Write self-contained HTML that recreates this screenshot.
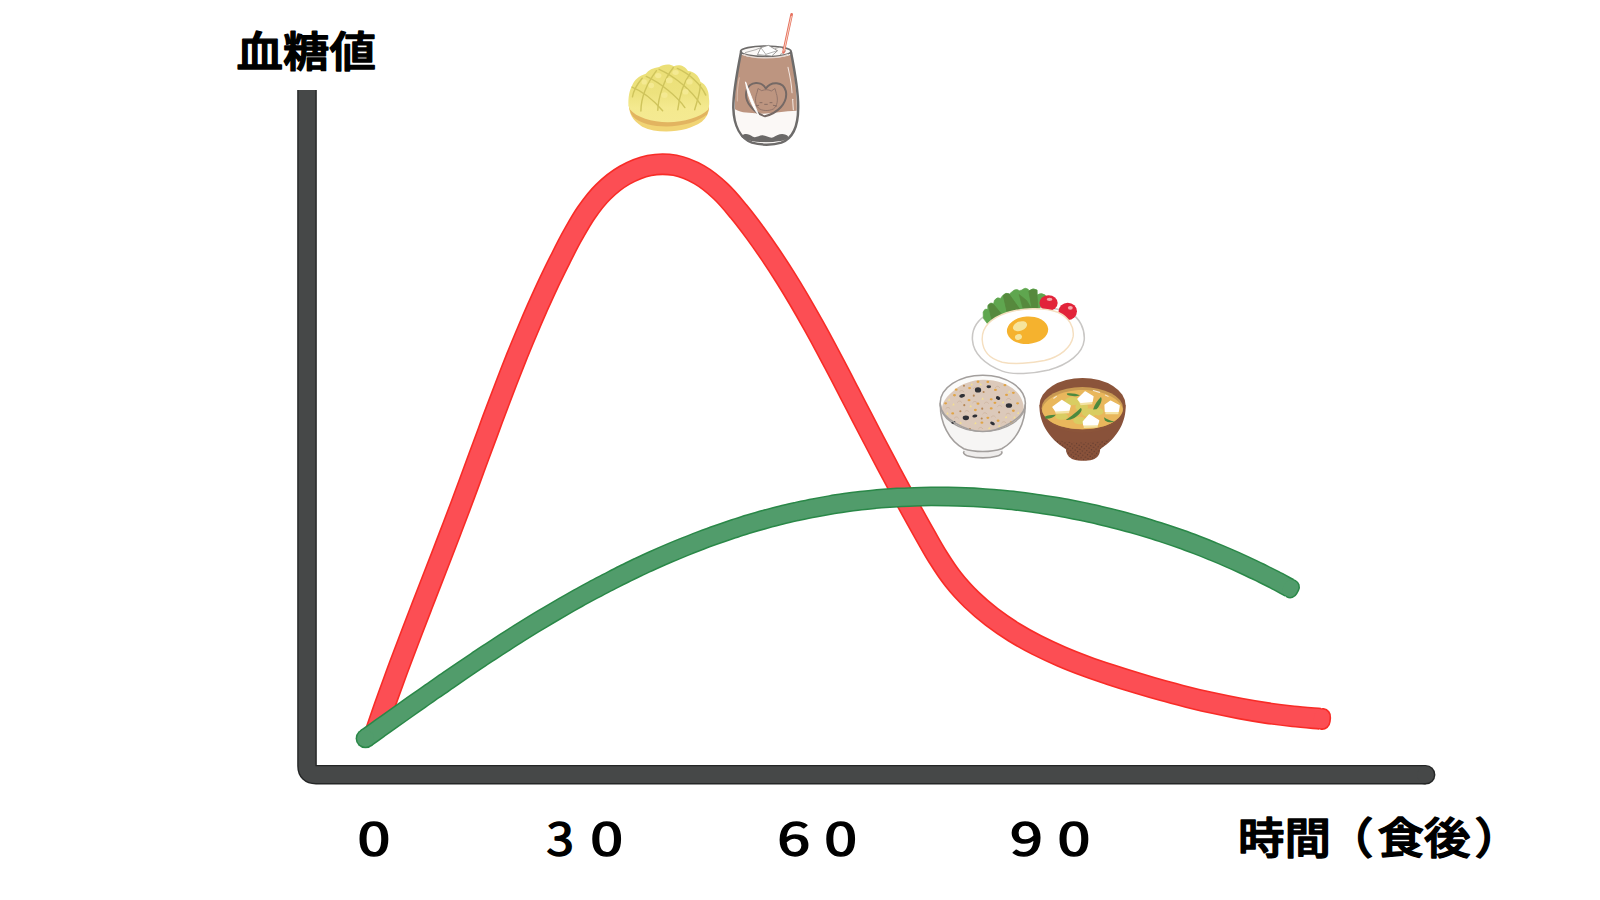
<!DOCTYPE html>
<html lang="ja">
<head>
<meta charset="utf-8">
<title>血糖値</title>
<style>
html,body{margin:0;padding:0;background:#fff;}
body{width:1600px;height:900px;overflow:hidden;font-family:"Liberation Sans","Noto Sans CJK JP",sans-serif;}
svg{display:block;position:absolute;left:0;top:0;}
.lbl{font-family:"Liberation Sans","Noto Sans CJK JP",sans-serif;font-weight:500;fill:#000;stroke:#000;stroke-linejoin:round;stroke-linecap:round;}
.num{font-family:"Noto Sans CJK JP","Liberation Sans",sans-serif;font-weight:400;fill:#000;stroke:#000;stroke-width:1.5;stroke-linejoin:round;}
</style>
</head>
<body>
<svg width="1600" height="900" viewBox="0 0 1600 900">
<rect width="1600" height="900" fill="#ffffff"/>
<!-- axes -->
<path d="M307,90 L307,766 Q307,774.7 316,774.7 L1425.6,774.7" fill="none" stroke="#242626" stroke-width="19.6" stroke-linecap="butt"/>
<circle cx="1425.6" cy="774.7" r="9.8" fill="#242626"/>
<path d="M307,90 L307,766 Q307,774.7 316,774.7 L1425.6,774.7" fill="none" stroke="#464848" stroke-width="16.8" stroke-linecap="butt"/>
<circle cx="1425.6" cy="774.7" r="8.4" fill="#464848"/>
<!-- red curve -->
<path d="M375.5,732.0 C377.0,727.8 381.3,715.2 384.2,706.8 C387.2,698.4 390.2,690.1 393.3,681.7 C396.3,673.3 399.4,665.0 402.6,656.6 C405.7,648.3 408.9,640.0 412.1,631.6 C415.3,623.3 418.5,615.0 421.7,606.7 C424.9,598.4 428.2,590.0 431.4,581.7 C434.6,573.4 437.9,565.1 441.1,556.8 C444.3,548.5 447.5,540.1 450.7,531.8 C453.9,523.5 457.0,515.2 460.2,506.8 C463.3,498.5 466.4,490.1 469.5,481.8 C472.6,473.5 475.6,465.1 478.7,456.8 C481.8,448.4 484.9,440.1 488.0,431.8 C491.0,423.4 494.1,415.1 497.3,406.8 C500.4,398.5 503.6,390.2 506.8,381.9 C510.0,373.6 513.2,365.4 516.5,357.1 C519.9,348.9 523.2,340.7 526.7,332.5 C530.1,324.3 533.6,316.1 537.2,308.0 C540.9,299.8 544.5,291.7 548.3,283.7 C552.2,275.6 556.0,267.5 560.1,259.6 C564.1,251.6 568.1,243.5 572.5,235.7 C576.9,227.9 581.2,219.9 586.3,212.6 C591.4,205.3 596.7,198.1 603.1,191.9 C609.4,185.7 616.7,179.7 624.4,175.3 C632.2,170.9 640.9,167.2 649.3,165.5 C657.7,163.8 666.7,163.8 675.0,165.3 C683.3,166.9 691.7,170.5 699.3,174.8 C706.8,179.1 713.9,185.0 720.4,191.1 C727.0,197.2 732.8,204.4 738.5,211.3 C744.3,218.3 749.7,225.5 755.1,232.8 C760.4,240.0 765.5,247.3 770.5,254.7 C775.5,262.1 780.4,269.6 785.1,277.1 C789.8,284.6 794.4,292.2 798.9,299.8 C803.4,307.5 807.8,315.2 812.1,322.9 C816.5,330.6 820.7,338.4 824.9,346.2 C829.1,354.0 833.2,361.9 837.3,369.7 C841.5,377.6 845.5,385.5 849.6,393.4 C853.7,401.3 857.8,409.2 861.9,417.1 C866.0,425.0 870.1,432.9 874.2,440.8 C878.3,448.7 882.5,456.6 886.7,464.5 C890.9,472.4 895.1,480.3 899.3,488.2 C903.5,496.0 907.8,503.9 912.1,511.7 C916.4,519.5 920.7,527.3 925.1,535.0 C929.5,542.7 933.7,550.6 938.5,558.0 C943.2,565.5 948.1,573.0 953.6,579.9 C959.1,586.9 965.3,593.5 971.6,599.7 C978.0,605.9 984.8,611.6 991.8,617.0 C998.9,622.4 1006.2,627.4 1013.7,632.1 C1021.2,636.7 1028.9,641.0 1036.8,645.1 C1044.7,649.1 1052.8,652.8 1061.0,656.3 C1069.2,659.9 1077.6,663.1 1085.9,666.2 C1094.3,669.3 1102.9,672.2 1111.4,675.0 C1119.9,677.8 1128.5,680.5 1137.0,683.1 C1145.6,685.6 1154.1,688.1 1162.7,690.5 C1171.3,692.9 1179.9,695.1 1188.5,697.3 C1197.1,699.4 1205.7,701.5 1214.3,703.3 C1223.0,705.2 1231.7,707.0 1240.4,708.6 C1249.1,710.2 1257.9,711.7 1266.6,713.0 C1275.4,714.3 1284.3,715.4 1293.2,716.4 C1302.1,717.3 1315.5,718.3 1320.0,718.7" fill="none" stroke="#f82c27" stroke-width="22" stroke-linecap="butt" stroke-linejoin="round"/>
<rect x="-6" y="-11.0" width="17.00" height="22" rx="9.00" fill="#f82c27" transform="translate(1320.0,718.7) rotate(6.1)"/>
<path d="M375.5,732.0 C377.0,727.8 381.3,715.2 384.2,706.8 C387.2,698.4 390.2,690.1 393.3,681.7 C396.3,673.3 399.4,665.0 402.6,656.6 C405.7,648.3 408.9,640.0 412.1,631.6 C415.3,623.3 418.5,615.0 421.7,606.7 C424.9,598.4 428.2,590.0 431.4,581.7 C434.6,573.4 437.9,565.1 441.1,556.8 C444.3,548.5 447.5,540.1 450.7,531.8 C453.9,523.5 457.0,515.2 460.2,506.8 C463.3,498.5 466.4,490.1 469.5,481.8 C472.6,473.5 475.6,465.1 478.7,456.8 C481.8,448.4 484.9,440.1 488.0,431.8 C491.0,423.4 494.1,415.1 497.3,406.8 C500.4,398.5 503.6,390.2 506.8,381.9 C510.0,373.6 513.2,365.4 516.5,357.1 C519.9,348.9 523.2,340.7 526.7,332.5 C530.1,324.3 533.6,316.1 537.2,308.0 C540.9,299.8 544.5,291.7 548.3,283.7 C552.2,275.6 556.0,267.5 560.1,259.6 C564.1,251.6 568.1,243.5 572.5,235.7 C576.9,227.9 581.2,219.9 586.3,212.6 C591.4,205.3 596.7,198.1 603.1,191.9 C609.4,185.7 616.7,179.7 624.4,175.3 C632.2,170.9 640.9,167.2 649.3,165.5 C657.7,163.8 666.7,163.8 675.0,165.3 C683.3,166.9 691.7,170.5 699.3,174.8 C706.8,179.1 713.9,185.0 720.4,191.1 C727.0,197.2 732.8,204.4 738.5,211.3 C744.3,218.3 749.7,225.5 755.1,232.8 C760.4,240.0 765.5,247.3 770.5,254.7 C775.5,262.1 780.4,269.6 785.1,277.1 C789.8,284.6 794.4,292.2 798.9,299.8 C803.4,307.5 807.8,315.2 812.1,322.9 C816.5,330.6 820.7,338.4 824.9,346.2 C829.1,354.0 833.2,361.9 837.3,369.7 C841.5,377.6 845.5,385.5 849.6,393.4 C853.7,401.3 857.8,409.2 861.9,417.1 C866.0,425.0 870.1,432.9 874.2,440.8 C878.3,448.7 882.5,456.6 886.7,464.5 C890.9,472.4 895.1,480.3 899.3,488.2 C903.5,496.0 907.8,503.9 912.1,511.7 C916.4,519.5 920.7,527.3 925.1,535.0 C929.5,542.7 933.7,550.6 938.5,558.0 C943.2,565.5 948.1,573.0 953.6,579.9 C959.1,586.9 965.3,593.5 971.6,599.7 C978.0,605.9 984.8,611.6 991.8,617.0 C998.9,622.4 1006.2,627.4 1013.7,632.1 C1021.2,636.7 1028.9,641.0 1036.8,645.1 C1044.7,649.1 1052.8,652.8 1061.0,656.3 C1069.2,659.9 1077.6,663.1 1085.9,666.2 C1094.3,669.3 1102.9,672.2 1111.4,675.0 C1119.9,677.8 1128.5,680.5 1137.0,683.1 C1145.6,685.6 1154.1,688.1 1162.7,690.5 C1171.3,692.9 1179.9,695.1 1188.5,697.3 C1197.1,699.4 1205.7,701.5 1214.3,703.3 C1223.0,705.2 1231.7,707.0 1240.4,708.6 C1249.1,710.2 1257.9,711.7 1266.6,713.0 C1275.4,714.3 1284.3,715.4 1293.2,716.4 C1302.1,717.3 1315.5,718.3 1320.0,718.7" fill="none" stroke="#fc4e54" stroke-width="18.8" stroke-linecap="butt" stroke-linejoin="round"/>
<rect x="-6" y="-9.4" width="15.40" height="18.8" rx="7.40" fill="#fc4e54" transform="translate(1320.0,718.7) rotate(6.1)"/>
<!-- green curve -->
<path d="M365.5,738.4 C367.8,736.8 374.6,732.0 379.1,728.7 C383.7,725.5 388.2,722.3 392.8,719.0 C397.4,715.8 401.9,712.6 406.5,709.3 C411.1,706.1 415.7,702.8 420.3,699.6 C424.9,696.4 429.5,693.1 434.2,689.9 C438.8,686.7 443.4,683.4 448.1,680.2 C452.7,677.0 457.4,673.8 462.1,670.6 C466.8,667.4 471.5,664.3 476.2,661.1 C480.9,657.9 485.7,654.8 490.4,651.7 C495.2,648.6 499.9,645.5 504.7,642.4 C509.5,639.3 514.3,636.2 519.1,633.2 C523.9,630.2 528.8,627.2 533.6,624.2 C538.5,621.2 543.3,618.3 548.2,615.4 C553.1,612.5 558.0,609.6 563.0,606.7 C567.9,603.9 572.9,601.1 577.8,598.3 C582.8,595.5 587.8,592.8 592.8,590.1 C597.8,587.4 602.9,584.8 607.9,582.2 C613.0,579.6 618.0,577.0 623.1,574.5 C628.2,571.9 633.3,569.5 638.4,567.0 C643.6,564.6 648.7,562.2 653.9,559.9 C659.0,557.6 664.2,555.3 669.4,553.1 C674.6,550.8 679.8,548.7 685.0,546.6 C690.3,544.4 695.5,542.4 700.8,540.4 C706.1,538.4 711.4,536.4 716.7,534.6 C722.0,532.7 727.3,530.9 732.6,529.1 C738.0,527.3 743.3,525.7 748.7,524.0 C754.1,522.4 759.5,520.8 764.9,519.4 C770.3,517.9 775.7,516.4 781.2,515.1 C786.6,513.7 792.1,512.5 797.5,511.3 C803.0,510.1 808.5,508.9 814.0,507.9 C819.5,506.8 825.0,505.8 830.6,504.9 C836.1,504.0 841.7,503.2 847.2,502.4 C852.8,501.7 858.4,501.0 863.9,500.4 C869.5,499.8 875.1,499.2 880.7,498.7 C886.3,498.3 891.9,497.9 897.6,497.5 C903.2,497.2 908.8,497.0 914.4,496.8 C920.0,496.6 925.7,496.5 931.3,496.4 C937.0,496.4 942.6,496.4 948.2,496.5 C953.9,496.6 959.5,496.7 965.2,497.0 C970.8,497.2 976.4,497.5 982.1,497.9 C987.7,498.2 993.3,498.7 999.0,499.2 C1004.6,499.7 1010.2,500.2 1015.9,500.9 C1021.5,501.5 1027.1,502.2 1032.7,503.0 C1038.3,503.7 1043.9,504.6 1049.5,505.5 C1055.1,506.4 1060.7,507.3 1066.3,508.3 C1071.9,509.4 1077.4,510.5 1083.0,511.6 C1088.5,512.8 1094.1,514.0 1099.6,515.3 C1105.1,516.6 1110.6,517.9 1116.1,519.3 C1121.6,520.7 1127.1,522.2 1132.6,523.7 C1138.0,525.3 1143.5,526.9 1148.9,528.5 C1154.3,530.2 1159.7,531.9 1165.1,533.7 C1170.5,535.5 1175.8,537.3 1181.2,539.2 C1186.5,541.1 1191.8,543.1 1197.1,545.1 C1202.4,547.1 1207.7,549.2 1212.9,551.4 C1218.2,553.5 1223.4,555.7 1228.6,558.0 C1233.8,560.2 1238.9,562.5 1244.1,564.9 C1249.2,567.3 1254.3,569.7 1259.4,572.2 C1264.4,574.7 1269.5,577.2 1274.5,579.8 C1279.5,582.4 1286.9,586.5 1289.4,587.8" fill="none" stroke="#2a8848" stroke-width="19.8" stroke-linecap="butt" stroke-linejoin="round"/>
<circle cx="365.5" cy="738.4" r="9.9" fill="#2a8848"/>
<rect x="-6" y="-9.9" width="15.90" height="19.8" rx="8.00" fill="#2a8848" transform="translate(1289.4,587.8) rotate(27.5)"/>
<path d="M365.5,738.4 C367.8,736.8 374.6,732.0 379.1,728.7 C383.7,725.5 388.2,722.3 392.8,719.0 C397.4,715.8 401.9,712.6 406.5,709.3 C411.1,706.1 415.7,702.8 420.3,699.6 C424.9,696.4 429.5,693.1 434.2,689.9 C438.8,686.7 443.4,683.4 448.1,680.2 C452.7,677.0 457.4,673.8 462.1,670.6 C466.8,667.4 471.5,664.3 476.2,661.1 C480.9,657.9 485.7,654.8 490.4,651.7 C495.2,648.6 499.9,645.5 504.7,642.4 C509.5,639.3 514.3,636.2 519.1,633.2 C523.9,630.2 528.8,627.2 533.6,624.2 C538.5,621.2 543.3,618.3 548.2,615.4 C553.1,612.5 558.0,609.6 563.0,606.7 C567.9,603.9 572.9,601.1 577.8,598.3 C582.8,595.5 587.8,592.8 592.8,590.1 C597.8,587.4 602.9,584.8 607.9,582.2 C613.0,579.6 618.0,577.0 623.1,574.5 C628.2,571.9 633.3,569.5 638.4,567.0 C643.6,564.6 648.7,562.2 653.9,559.9 C659.0,557.6 664.2,555.3 669.4,553.1 C674.6,550.8 679.8,548.7 685.0,546.6 C690.3,544.4 695.5,542.4 700.8,540.4 C706.1,538.4 711.4,536.4 716.7,534.6 C722.0,532.7 727.3,530.9 732.6,529.1 C738.0,527.3 743.3,525.7 748.7,524.0 C754.1,522.4 759.5,520.8 764.9,519.4 C770.3,517.9 775.7,516.4 781.2,515.1 C786.6,513.7 792.1,512.5 797.5,511.3 C803.0,510.1 808.5,508.9 814.0,507.9 C819.5,506.8 825.0,505.8 830.6,504.9 C836.1,504.0 841.7,503.2 847.2,502.4 C852.8,501.7 858.4,501.0 863.9,500.4 C869.5,499.8 875.1,499.2 880.7,498.7 C886.3,498.3 891.9,497.9 897.6,497.5 C903.2,497.2 908.8,497.0 914.4,496.8 C920.0,496.6 925.7,496.5 931.3,496.4 C937.0,496.4 942.6,496.4 948.2,496.5 C953.9,496.6 959.5,496.7 965.2,497.0 C970.8,497.2 976.4,497.5 982.1,497.9 C987.7,498.2 993.3,498.7 999.0,499.2 C1004.6,499.7 1010.2,500.2 1015.9,500.9 C1021.5,501.5 1027.1,502.2 1032.7,503.0 C1038.3,503.7 1043.9,504.6 1049.5,505.5 C1055.1,506.4 1060.7,507.3 1066.3,508.3 C1071.9,509.4 1077.4,510.5 1083.0,511.6 C1088.5,512.8 1094.1,514.0 1099.6,515.3 C1105.1,516.6 1110.6,517.9 1116.1,519.3 C1121.6,520.7 1127.1,522.2 1132.6,523.7 C1138.0,525.3 1143.5,526.9 1148.9,528.5 C1154.3,530.2 1159.7,531.9 1165.1,533.7 C1170.5,535.5 1175.8,537.3 1181.2,539.2 C1186.5,541.1 1191.8,543.1 1197.1,545.1 C1202.4,547.1 1207.7,549.2 1212.9,551.4 C1218.2,553.5 1223.4,555.7 1228.6,558.0 C1233.8,560.2 1238.9,562.5 1244.1,564.9 C1249.2,567.3 1254.3,569.7 1259.4,572.2 C1264.4,574.7 1269.5,577.2 1274.5,579.8 C1279.5,582.4 1286.9,586.5 1289.4,587.8" fill="none" stroke="#519c6b" stroke-width="16.8" stroke-linecap="butt" stroke-linejoin="round"/>
<circle cx="365.5" cy="738.4" r="8.4" fill="#519c6b"/>
<rect x="-6" y="-8.4" width="14.40" height="16.8" rx="6.50" fill="#519c6b" transform="translate(1289.4,587.8) rotate(27.5)"/>
<!-- melon pan -->
<defs>
<linearGradient id="mpg" x1="0" y1="0" x2="0" y2="1"><stop offset="0" stop-color="#ebdf76"/><stop offset="0.5" stop-color="#ede27e"/><stop offset="0.75" stop-color="#f4e98f"/><stop offset="1" stop-color="#f5ea92"/></linearGradient>
</defs>
<g transform="translate(620,56) scale(0.08889)">
<path d="M100,560 C105,640 130,720 250,795 C330,835 420,848 520,848 C680,848 820,810 920,740 C975,690 998,640 1000,590 Z" fill="#f1d474"/>
<path d="M100,560 C110,610 120,650 145,680 C220,760 380,792 520,792 C700,792 880,740 980,655 C995,620 1000,600 1000,585 L990,540 L110,520 Z" fill="#e2b460"/>
<path d="M95,560 C90,470 105,390 135,335 C160,270 210,225 290,200 C320,160 370,135 440,125 C480,95 560,85 605,115 C660,90 730,105 765,170 C830,175 890,225 905,290 C965,320 1000,390 1000,470 C1008,520 1005,570 990,605 C900,690 720,745 540,745 C360,745 180,690 110,600 Z" fill="url(#mpg)"/>
<g fill="none" stroke="#cfc45c" stroke-width="16" stroke-linecap="round">
<path d="M140,460 C150,400 190,320 250,250"/>
<path d="M235,620 C235,500 280,340 410,165"/>
<path d="M425,610 C430,470 490,270 600,130"/>
<path d="M650,605 C670,440 720,290 790,195"/>
<path d="M840,605 C870,500 900,420 905,320"/>
<path d="M135,350 C250,395 380,500 480,615"/>
<path d="M295,230 C450,300 640,450 730,580"/>
<path d="M440,150 C620,230 820,400 905,545"/>
<path d="M645,140 C780,200 910,320 965,440"/>
</g>
<g fill="#f4e992">
<ellipse cx="430" cy="220" rx="36" ry="30"/><ellipse cx="625" cy="185" rx="36" ry="28"/><ellipse cx="272" cy="292" rx="30" ry="30"/>
<ellipse cx="555" cy="275" rx="38" ry="32"/><ellipse cx="782" cy="290" rx="36" ry="32"/><ellipse cx="352" cy="332" rx="32" ry="30"/>
<ellipse cx="500" cy="440" rx="36" ry="32"/><ellipse cx="737" cy="402" rx="34" ry="32"/>
</g>
</g>

<!-- iced cocoa glass -->
<g transform="translate(720,6) scale(0.16667)">
<!-- liquid -->
<path d="M124,285 C100,400 80,520 82,610 C85,720 128,790 194,815 C242,830 318,830 366,815 C432,790 467,720 467,610 C469,520 448,400 428,285 Z" fill="#fbf8f6"/>
<path d="M124,290 C104,400 86,500 90,620 C130,645 180,640 230,645 C300,650 380,630 460,628 C463,520 446,400 428,290 C380,320 180,320 124,290 Z" fill="#bd9580"/>
<!-- syrup -->
<path d="M128,778 C150,761 175,768 195,783 C215,796 235,775 255,776 C280,778 300,796 320,788 C345,775 365,761 395,773 C418,783 412,797 380,807 C320,821 230,821 175,807 C142,797 122,789 128,778 Z" fill="#6a6867"/>
<path d="M160,808 C230,835 330,835 395,806 C330,822 230,822 160,808 Z" fill="#fbf8f6"/>
<!-- rim & ice -->
<ellipse cx="275" cy="272" rx="152" ry="32" fill="#fbf8f6" stroke="#6d6b6a" stroke-width="10"/>
<path d="M140,290 C200,318 350,318 410,290" fill="none" stroke="#e6d9d2" stroke-width="8"/>
<path d="M225,292 L245,250 L290,236 L345,268 L310,300 Z" fill="#ffffff" stroke="#8a8886" stroke-width="5" stroke-linejoin="round"/>
<path d="M245,250 L275,290 L345,268 M275,290 L270,305" fill="none" stroke="#8a8886" stroke-width="4"/>
<path d="M150,280 L215,262 L245,250 M330,255 L365,245 L395,270 L360,292" fill="none" stroke="#8a8886" stroke-width="4" stroke-linejoin="round"/>
<!-- straw -->
<path d="M430,50 L381,278" stroke="#e6705e" stroke-width="16" stroke-linecap="round" fill="none"/>
<path d="M428,62 L383,270" stroke="#f8d3c2" stroke-width="6" stroke-linecap="round" fill="none"/>
<!-- heart & cat -->
<path d="M275,495 C250,450 180,450 160,505 C140,570 200,640 270,662 C340,645 410,585 395,510 C380,450 305,450 275,495 Z" fill="none" stroke="#756965" stroke-width="12" stroke-linejoin="round"/>
<path d="M222,520 L228,495 L250,508 C270,500 290,500 308,510 L330,495 L338,525 C350,560 345,600 320,618 C290,632 250,630 230,612 C208,590 210,550 222,520 Z" fill="none" stroke="#8a6f66" stroke-width="5" stroke-linejoin="round"/>
<path d="M240,580 L252,580 M300,580 L312,580 M268,590 L284,590 M232,596 L214,600 M320,596 L340,600" stroke="#7d655d" stroke-width="5" fill="none" stroke-linecap="round"/>
<!-- highlights -->
<path d="M153,455 C165,540 195,610 232,655 C205,590 180,520 153,455 Z" fill="#ffffff" stroke="#ffffff" stroke-width="5" stroke-linejoin="round"/>
<path d="M408,368 C420,420 430,470 432,520" fill="none" stroke="#f4e8e2" stroke-width="6" stroke-linecap="round"/>
<path d="M436,560 L440,622" fill="none" stroke="#f4e8e2" stroke-width="6" stroke-linecap="round"/>
<path d="M116,430 C106,480 102,530 104,570" fill="none" stroke="#d9bcad" stroke-width="6" stroke-linecap="round"/>
<!-- glass outline -->
<path d="M126,278 C102,400 78,520 80,612 C83,722 125,795 192,820 C242,836 318,836 368,820 C435,795 469,722 469,612 C471,520 450,400 426,278" fill="none" stroke="#6d6b6a" stroke-width="15" stroke-linecap="round"/>
<path d="M170,795 C230,815 320,815 385,795" fill="none" stroke="#6d6b6a" stroke-width="5" stroke-linecap="round"/>
</g>

<!-- fried egg plate -->
<g transform="translate(960,280) scale(0.11111)">
<path d="M112,540 C105,440 150,360 260,300 C420,230 800,220 980,290 C1080,340 1125,440 1118,540 C1105,660 980,760 800,810 C650,845 480,855 380,820 C220,760 120,660 112,540 Z" fill="#ffffff" stroke="#c9c7c5" stroke-width="14"/>
<!-- lettuce -->
<path d="M210,345 L208,288 Q222,250 250,264 L250,232 Q272,195 302,214 L310,182 Q336,148 364,166 L384,140 Q412,106 444,126 L468,106 Q502,72 534,96 L556,90 Q586,60 614,84 L622,96 Q655,66 694,90 L694,134 Q735,110 768,136 L766,158 L716,255 L258,408 Z" fill="#5fa64f" stroke="#5fa64f" stroke-width="6" stroke-linejoin="round"/>
<path d="M256,225 Q275,205 300,218 L396,335 L292,385 Z" fill="#56893d" stroke="#56893d" stroke-width="8" stroke-linejoin="round"/>
<path d="M390,140 Q412,115 440,126 L550,280 L432,325 Z" fill="#56893d" stroke="#56893d" stroke-width="8" stroke-linejoin="round"/>
<path d="M532,130 L600,185 L645,258 L572,275 Z" fill="#56893d" stroke="#56893d" stroke-width="6" stroke-linejoin="round"/>
<path d="M620,100 Q650,78 690,94 L700,255 L648,258 Z" fill="#56893d" stroke="#56893d" stroke-width="8" stroke-linejoin="round"/>
<!-- tomatoes -->
<ellipse cx="797" cy="207" rx="82" ry="70" fill="#e2243a"/>
<ellipse cx="806" cy="174" rx="26" ry="15" fill="#f4a9ab"/>
<ellipse cx="970" cy="282" rx="83" ry="78" fill="#e2243a"/>
<ellipse cx="993" cy="250" rx="22" ry="17" fill="#f4a9ab"/>
<!-- egg white -->
<path d="M200,540 C195,440 260,350 420,295 C560,250 760,245 880,290 C980,335 1030,420 1018,510 C1000,610 900,690 760,725 C640,750 480,760 380,740 C270,710 205,640 200,540 Z" fill="#ffffff" stroke="#f5dfc0" stroke-width="13"/>
<!-- yolk -->
<ellipse cx="608" cy="452" rx="186" ry="124" fill="#f5b22e" transform="rotate(-4 608 452)"/>
<ellipse cx="540" cy="416" rx="66" ry="42" fill="#f6e49c" transform="rotate(-20 540 416)"/>
<ellipse cx="526" cy="513" rx="32" ry="25" fill="#f6e49c" transform="rotate(-15 526 513)"/>
</g>

<!-- rice bowl -->
<g transform="translate(930,368) scale(0.10553)">
<ellipse cx="500" cy="800" rx="182" ry="52" fill="#efedec" stroke="#a39f9d" stroke-width="15"/>
<path d="M300,700 L700,700 L688,790 L312,790 Z" fill="#f3f2f1"/>
<path d="M98,340 C95,520 180,690 320,765 C420,800 580,800 680,765 C820,690 905,520 902,340 Z" fill="#f6f5f4" stroke="#a39f9d" stroke-width="15"/>
<ellipse cx="500" cy="334" rx="404" ry="266" fill="#fbfbfa" stroke="#a39f9d" stroke-width="15"/>
<path d="M115,410 C105,340 150,270 230,210 C300,150 400,115 500,112 C620,108 740,150 810,215 C870,270 900,350 885,425 C800,540 640,598 500,598 C350,598 200,540 115,410 Z" fill="#dcc9ba"/>
<path d="M280,225 Q300,199 320,225" fill="none" stroke="#cbb29c" stroke-width="7" stroke-linecap="round"/>
<path d="M410,195 Q430,169 450,195" fill="none" stroke="#cbb29c" stroke-width="7" stroke-linecap="round"/>
<path d="M620,185 Q640,159 660,185" fill="none" stroke="#cbb29c" stroke-width="7" stroke-linecap="round"/>
<path d="M260,325 Q280,299 300,325" fill="none" stroke="#cbb29c" stroke-width="7" stroke-linecap="round"/>
<path d="M405,328 Q425,302 445,328" fill="none" stroke="#cbb29c" stroke-width="7" stroke-linecap="round"/>
<path d="M515,335 Q535,309 555,335" fill="none" stroke="#cbb29c" stroke-width="7" stroke-linecap="round"/>
<path d="M640,365 Q660,339 680,365" fill="none" stroke="#cbb29c" stroke-width="7" stroke-linecap="round"/>
<path d="M725,300 Q745,274 765,300" fill="none" stroke="#cbb29c" stroke-width="7" stroke-linecap="round"/>
<path d="M150,385 Q170,359 190,385" fill="none" stroke="#cbb29c" stroke-width="7" stroke-linecap="round"/>
<path d="M330,415 Q350,389 370,415" fill="none" stroke="#cbb29c" stroke-width="7" stroke-linecap="round"/>
<path d="M500,435 Q520,409 540,435" fill="none" stroke="#cbb29c" stroke-width="7" stroke-linecap="round"/>
<path d="M720,440 Q740,414 760,440" fill="none" stroke="#cbb29c" stroke-width="7" stroke-linecap="round"/>
<path d="M230,475 Q250,449 270,475" fill="none" stroke="#cbb29c" stroke-width="7" stroke-linecap="round"/>
<path d="M580,465 Q600,439 620,465" fill="none" stroke="#cbb29c" stroke-width="7" stroke-linecap="round"/>
<path d="M460,575 Q480,549 500,575" fill="none" stroke="#cbb29c" stroke-width="7" stroke-linecap="round"/>
<path d="M680,520 Q700,494 720,520" fill="none" stroke="#cbb29c" stroke-width="7" stroke-linecap="round"/>
<path d="M383,165 L397,142 L407,164 Z" fill="#f3df92"/>
<path d="M468,165 L482,142 L492,164 Z" fill="#f3df92"/>
<path d="M168,310 L182,287 L192,309 Z" fill="#f3df92"/>
<path d="M210,355 L224,332 L234,354 Z" fill="#f3df92"/>
<path d="M373,372 L387,349 L397,371 Z" fill="#f3df92"/>
<path d="M486,300 L500,277 L510,299 Z" fill="#f3df92"/>
<path d="M680,335 L694,312 L704,334 Z" fill="#f3df92"/>
<path d="M738,235 L752,212 L762,234 Z" fill="#f3df92"/>
<path d="M153,440 L167,417 L177,439 Z" fill="#f3df92"/>
<path d="M278,530 L292,507 L302,529 Z" fill="#f3df92"/>
<path d="M418,532 L432,509 L442,531 Z" fill="#f3df92"/>
<path d="M548,580 L562,557 L572,579 Z" fill="#f3df92"/>
<path d="M643,558 L657,535 L667,557 Z" fill="#f3df92"/>
<path d="M708,475 L722,452 L732,474 Z" fill="#f3df92"/>
<path d="M788,478 L802,455 L812,477 Z" fill="#f3df92"/>
<path d="M823,435 L837,412 L847,434 Z" fill="#f3df92"/>
<ellipse cx="455" cy="130" rx="14" ry="11" fill="#e0a446"/>
<ellipse cx="548" cy="132" rx="14" ry="11" fill="#e0a446"/>
<ellipse cx="710" cy="163" rx="14" ry="11" fill="#e0a446"/>
<ellipse cx="248" cy="205" rx="14" ry="11" fill="#e0a446"/>
<ellipse cx="375" cy="190" rx="14" ry="11" fill="#e0a446"/>
<ellipse cx="620" cy="208" rx="14" ry="11" fill="#e0a446"/>
<ellipse cx="232" cy="258" rx="14" ry="11" fill="#e0a446"/>
<ellipse cx="790" cy="235" rx="14" ry="11" fill="#e0a446"/>
<ellipse cx="148" cy="335" rx="14" ry="11" fill="#e0a446"/>
<ellipse cx="455" cy="338" rx="14" ry="11" fill="#e0a446"/>
<ellipse cx="615" cy="330" rx="14" ry="11" fill="#e0a446"/>
<ellipse cx="580" cy="297" rx="14" ry="11" fill="#e0a446"/>
<ellipse cx="370" cy="305" rx="14" ry="11" fill="#e0a446"/>
<ellipse cx="580" cy="383" rx="14" ry="11" fill="#e0a446"/>
<ellipse cx="430" cy="398" rx="14" ry="11" fill="#e0a446"/>
<ellipse cx="215" cy="430" rx="14" ry="11" fill="#e0a446"/>
<ellipse cx="790" cy="405" rx="14" ry="11" fill="#e0a446"/>
<ellipse cx="548" cy="472" rx="14" ry="11" fill="#e0a446"/>
<ellipse cx="645" cy="500" rx="14" ry="11" fill="#e0a446"/>
<ellipse cx="492" cy="518" rx="14" ry="11" fill="#e0a446"/>
<ellipse cx="770" cy="515" rx="14" ry="11" fill="#e0a446"/>
<ellipse cx="725" cy="255" rx="14" ry="11" fill="#e0a446"/>
<ellipse cx="830" cy="335" rx="14" ry="11" fill="#e0a446"/>
<circle cx="322" cy="168" r="10" fill="#b48656"/>
<circle cx="508" cy="228" r="10" fill="#b48656"/>
<circle cx="415" cy="262" r="10" fill="#b48656"/>
<circle cx="325" cy="352" r="10" fill="#b48656"/>
<circle cx="495" cy="385" r="10" fill="#b48656"/>
<circle cx="288" cy="410" r="10" fill="#b48656"/>
<circle cx="490" cy="478" r="10" fill="#b48656"/>
<circle cx="655" cy="420" r="10" fill="#b48656"/>
<circle cx="378" cy="578" r="10" fill="#b48656"/>
<ellipse cx="455" cy="208" rx="30" ry="25" fill="#2f3036" transform="rotate(0 455 208)"/>
<ellipse cx="557" cy="178" rx="22" ry="14" fill="#2f3036" transform="rotate(0 557 178)"/>
<ellipse cx="305" cy="263" rx="28" ry="16" fill="#2f3036" transform="rotate(-15 305 263)"/>
<ellipse cx="645" cy="285" rx="22" ry="16" fill="#2f3036" transform="rotate(30 645 285)"/>
<ellipse cx="748" cy="355" rx="30" ry="22" fill="#2f3036" transform="rotate(0 748 355)"/>
<ellipse cx="340" cy="472" rx="30" ry="22" fill="#2f3036" transform="rotate(0 340 472)"/>
<ellipse cx="425" cy="455" rx="24" ry="14" fill="#2f3036" transform="rotate(-10 425 455)"/>
<ellipse cx="592" cy="525" rx="24" ry="14" fill="#2f3036" transform="rotate(30 592 525)"/>
<ellipse cx="222" cy="515" rx="20" ry="12" fill="#2f3036" transform="rotate(-20 222 515)"/>
<path d="M97,345 C100,470 330,602 500,602 C670,602 900,470 903,345" fill="none" stroke="#a39f9d" stroke-width="15"/>
</g>

<!-- miso soup -->
<defs>
<pattern id="msd" width="44" height="40" patternUnits="userSpaceOnUse" patternTransform="rotate(-8)"><circle cx="10" cy="10" r="5.5" fill="#4a2f2a"/><circle cx="32" cy="30" r="5.5" fill="#4a2f2a"/></pattern>
<clipPath id="msc"><path d="M90,335 C85,480 160,640 340,750 C345,790 360,830 420,850 C470,862 540,862 590,850 C650,830 662,790 665,750 C840,640 912,480 906,335 Z"/></clipPath>
</defs>
<g transform="translate(1030,370) scale(0.10553)">
<path d="M90,335 C85,480 160,640 340,750 C345,790 360,830 420,850 C470,862 540,862 590,850 C650,830 662,790 665,750 C840,640 912,480 906,335 Z" fill="#89523a"/>
<g clip-path="url(#msc)"><path d="M200,650 C350,700 650,700 800,640 L800,900 L200,900 Z" fill="url(#msd)" opacity="0.85"/></g>
<ellipse cx="498" cy="335" rx="408" ry="260" fill="#8b543a"/>
<ellipse cx="496" cy="362" rx="386" ry="200" fill="#c99a52"/>
<path d="M114,380 C120,280 300,190 496,190 C700,190 870,280 880,380 C860,490 690,562 496,562 C300,562 130,490 114,380 Z" fill="#e9b75c"/>
<g fill="#d9cd62">
<ellipse cx="400" cy="295" rx="70" ry="40"/><ellipse cx="490" cy="350" rx="60" ry="45"/><ellipse cx="560" cy="405" rx="70" ry="40"/><ellipse cx="300" cy="440" rx="60" ry="32"/><ellipse cx="470" cy="478" rx="60" ry="36"/><ellipse cx="645" cy="395" rx="50" ry="36"/>
</g>
<!-- tofu shadows -->
<g fill="#f4e3a2">
<path d="M455,285 L595,270 L590,325 L480,335 Z"/><path d="M225,365 L380,355 L370,410 L245,415 Z"/><path d="M712,360 L845,350 L838,420 L715,420 Z"/><path d="M505,500 L650,495 L640,545 L510,550 Z"/>
</g>
<g fill="#ffffff" stroke="#ffffff" stroke-width="14" stroke-linejoin="round">
<path d="M455,275 L522,208 L596,252 L588,296 L482,306 Z"/>
<path d="M218,352 L302,290 L380,340 L368,380 L244,386 Z"/>
<path d="M712,332 L762,296 L844,338 L836,390 L715,392 Z"/>
<path d="M506,490 L562,426 L650,480 L638,516 L510,520 Z"/>
</g>
<!-- greens -->
<g fill="#4c8a3e">
<path d="M348,222 C390,215 440,225 472,240 C440,255 390,250 355,238 Z"/>
<path d="M598,375 C610,330 640,285 672,255 C690,275 670,330 630,372 Z"/>
<path d="M340,472 C390,440 450,390 480,360 C505,370 480,420 420,455 C390,470 360,478 340,472 Z"/>
<path d="M140,442 C170,430 215,422 245,425 C225,450 185,465 150,462 Z"/>
<path d="M700,448 C730,470 770,485 800,488 C780,500 735,498 710,478 Z"/>
</g>
<g fill="none" stroke="#f6ead8" stroke-width="10" stroke-linecap="round"><path d="M225,268 L250,250"/><path d="M600,195 L660,212"/><path d="M715,238 L740,250"/></g>
</g>

<!-- labels -->
<text class="lbl" transform="translate(236.5,67.05) scale(1,0.915)" x="0" y="0" font-size="46.5" stroke-width="1.5">血糖値</text>
<text class="num" transform="translate(374,855.2) scale(1.27,0.95)" x="0" y="0" font-size="46.5" text-anchor="middle">0</text>
<text class="num" transform="translate(560.2,855.2) scale(1.06,0.95)" x="0" y="0" font-size="46.5" text-anchor="middle">3</text>
<text class="num" transform="translate(606.7,855.2) scale(1.27,0.95)" x="0" y="0" font-size="46.5" text-anchor="middle">0</text>
<text class="num" transform="translate(793.7,855.2) scale(1.27,0.95)" x="0" y="0" font-size="46.5" text-anchor="middle">6</text>
<text class="num" transform="translate(840.7,855.2) scale(1.27,0.95)" x="0" y="0" font-size="46.5" text-anchor="middle">0</text>
<text class="num" transform="translate(1026.5,855.2) scale(1.27,0.95)" x="0" y="0" font-size="46.5" text-anchor="middle">9</text>
<text class="num" transform="translate(1074,855.2) scale(1.27,0.95)" x="0" y="0" font-size="46.5" text-anchor="middle">0</text>
<text class="lbl" transform="translate(1238,853.5) scale(1,0.925)" x="0" y="0" font-size="46.5" stroke-width="1.5">時間<tspan dx="-4">（</tspan><tspan dx="4">食後</tspan><tspan dx="4">）</tspan></text>
</svg>
</body>
</html>
